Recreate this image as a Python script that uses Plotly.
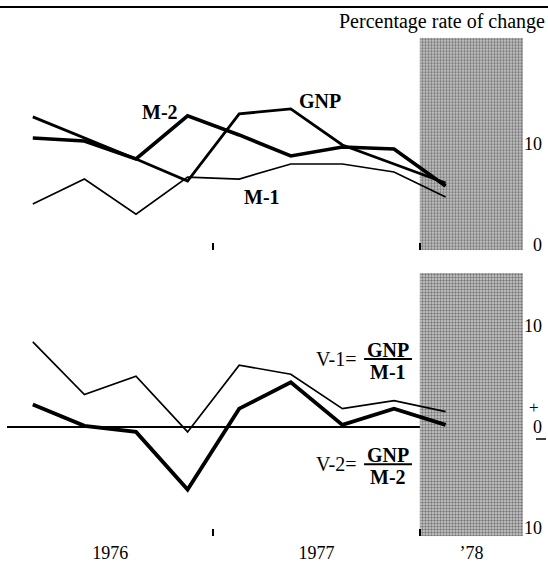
import plotly.graph_objects as go

# ---------------- data ----------------
quarters = ["1976Q1", "1976Q2", "1976Q3", "1976Q4",
            "1977Q1", "1977Q2", "1977Q3", "1977Q4", "1978Q1"]
gnp = [12.7, 10.6, 8.5, 6.3, 13.0, 13.5, 9.9, 8.0, 6.1]
m2 = [10.6, 10.3, 8.5, 12.8, 10.9, 8.8, 9.7, 9.5, 5.8]
m1 = [4.0, 6.5, 3.0, 6.7, 6.5, 8.0, 8.0, 7.2, 4.7]
v1 = [8.4, 3.2, 5.0, -0.5, 6.1, 5.2, 1.8, 2.6, 1.5]
v2 = [2.2, 0.1, -0.5, -6.2, 1.8, 4.4, 0.2, 1.8, 0.2]

shade_period = [1978.0, 1978.5]
year_bounds = [1977, 1978]
year_label_pos = [1976.5, 1977.5, 1978.25]
year_labels = ["1976", "1977", "\u201978"]
top_ticks = [10, 0]
top_ticktext = ["10", "\u20070"]
bot_ticks = [10, 0, -10]
bot_ticktext = ["10", "\u20070", "10"]


def qx(q):
    yr, n = q.split("Q")
    return int(yr) + (int(n) - 0.5) / 4


x = [qx(q) for q in quarters]

# ---------------- layout helpers ----------------
W, H = 548, 563
ML, MR = 7, 25
PW = W - ML - MR
FONT = "Liberation Serif"


def py(p):
    return 1 - p / H


def px(p):
    return (p - ML) / PW


top_range = [-0.6, 20.6]
bot_range = [-10.8, 15.2]

fig = go.Figure()

# stippled shading for early 1978
for xa, ya, rng in [("x", "y", top_range), ("x2", "y2", bot_range)]:
    s0, s1 = shade_period
    fig.add_trace(go.Scatter(
        x=[s0, s1, s1, s0, s0], y=[rng[0], rng[0], rng[1], rng[1], rng[0]],
        mode="none", fill="toself", fillcolor="rgba(0,0,0,0)",
        fillpattern=dict(shape=".", fgcolor="#1e1e1e", bgcolor="#d0d0d0",
                         size=3, solidity=0.5),
        xaxis=xa, yaxis=ya, hoverinfo="skip", showlegend=False))

# top panel lines
fig.add_trace(go.Scatter(x=x, y=m1, mode="lines", line=dict(color="black", width=1.7),
                         xaxis="x", yaxis="y", showlegend=False))
fig.add_trace(go.Scatter(x=x, y=gnp, mode="lines", line=dict(color="black", width=2.8),
                         xaxis="x", yaxis="y", showlegend=False))
fig.add_trace(go.Scatter(x=x, y=m2, mode="lines", line=dict(color="black", width=3.6),
                         xaxis="x", yaxis="y", showlegend=False))

# bottom panel lines
fig.add_trace(go.Scatter(x=x, y=v1, mode="lines", line=dict(color="black", width=1.7),
                         xaxis="x2", yaxis="y2", showlegend=False))
fig.add_trace(go.Scatter(x=x, y=v2, mode="lines", line=dict(color="black", width=3.8),
                         xaxis="x2", yaxis="y2", showlegend=False))

minor_ticks = dict(tickmode="array", tickvals=year_bounds, ticks="inside",
                   ticklen=7, tickwidth=1.5, tickcolor="black")

fig.update_layout(
    width=W, height=H,
    margin=dict(l=ML, r=MR, t=0, b=0),
    paper_bgcolor="white", plot_bgcolor="rgba(0,0,0,0)",
    font=dict(family=FONT, color="black", size=18),
    xaxis=dict(domain=[0, 1], range=[1976, 1978.5], anchor="y",
               showticklabels=False, ticks="", showgrid=False, zeroline=False,
               showline=False, minor=minor_ticks),
    xaxis2=dict(domain=[0, 1], range=[1976, 1978.5], anchor="y2",
                tickmode="array", tickvals=year_label_pos, ticktext=year_labels,
                ticks="", showgrid=False, zeroline=False, showline=False,
                ticklabelstandoff=4,
                tickfont=dict(family=FONT, size=18), minor=minor_ticks),
    yaxis=dict(domain=[py(252), py(38)], range=top_range, anchor="x", side="right",
               tickmode="array", tickvals=top_ticks, ticktext=top_ticktext,
               ticks="", showgrid=False, zeroline=False, showline=False,
               tickfont=dict(family=FONT, size=18)),
    yaxis2=dict(domain=[py(540), py(275)], range=bot_range, anchor="x2", side="right",
                tickmode="array", tickvals=bot_ticks, ticktext=bot_ticktext,
                ticks="", showgrid=False, zeroline=True, zerolinecolor="black",
                zerolinewidth=1.6, showline=False,
                tickfont=dict(family=FONT, size=18)),
)

# top rule
fig.add_shape(type="line", xref="paper", yref="paper", x0=px(0), x1=px(W),
              y0=py(7), y1=py(7), line=dict(color="black", width=2))

ann = []
ann.append(dict(text="Percentage rate of change", xref="paper", yref="paper",
                x=px(547), y=py(22), xanchor="right", yanchor="middle",
                showarrow=False, font=dict(family=FONT, size=20)))
for t, xx, yy in [("M-2", 1976.741, 13.2), ("GNP", 1977.516, 14.3), ("M-1", 1977.235, 4.75)]:
    ann.append(dict(text="<b>%s</b>" % t, xref="x", yref="y", x=xx, y=yy,
                    showarrow=False, font=dict(family=FONT, size=20)))

# sign markers around the zero label
ann.append(dict(text="+", xref="paper", yref="y2", x=px(541), y=1.9,
                showarrow=False, font=dict(family=FONT, size=17)))
fig.add_shape(type="line", xref="paper", yref="y2", x0=px(536), x1=px(546),
              y0=-1.2, y1=-1.2, line=dict(color="black", width=1.5))

# velocity labels with fractions
for lab, num, den, ybar in [("V-1=", "GNP", "M-1", 6.7),
                            ("V-2=", "GNP", "M-2", -3.7)]:
    ann.append(dict(text=lab, xref="x2", yref="y2", x=1977.596, y=ybar,
                    showarrow=False, font=dict(family=FONT, size=20)))
    ann.append(dict(text="<b>%s</b>" % num, xref="x2", yref="y2", x=1977.848, y=ybar,
                    yanchor="bottom", yshift=-3, borderpad=0,
                    showarrow=False, font=dict(family=FONT, size=20)))
    ann.append(dict(text="<b>%s</b>" % den, xref="x2", yref="y2", x=1977.848, y=ybar,
                    yanchor="top", yshift=-1, borderpad=0,
                    showarrow=False, font=dict(family=FONT, size=20)))
    fig.add_shape(type="line", xref="x2", yref="y2", x0=1977.73, x1=1977.962,
                  y0=ybar, y1=ybar, line=dict(color="black", width=2))

fig.update_layout(annotations=ann)
fig.write_html("out.html", config={"displayModeBar": False},
               post_script="document.body.style.margin='0';document.body.style.overflow='hidden';")
